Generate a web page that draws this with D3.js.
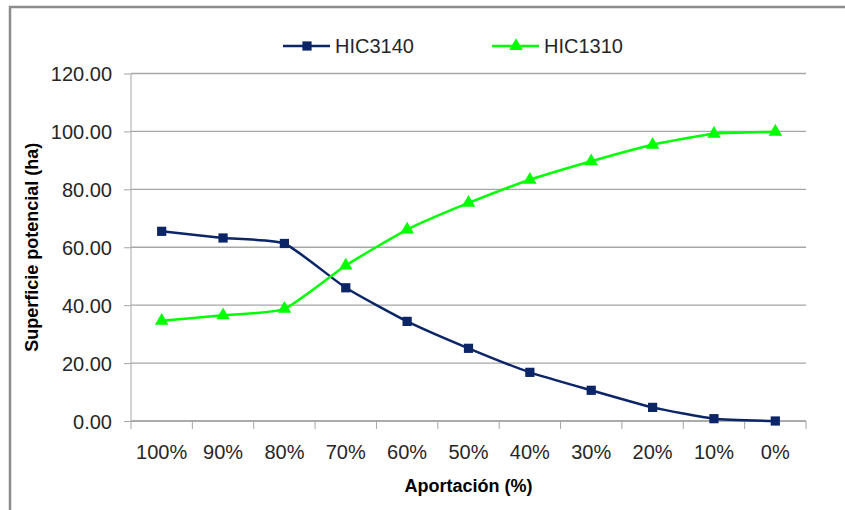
<!DOCTYPE html>
<html>
<head>
<meta charset="utf-8">
<script src="https://cdn.jsdelivr.net/npm/d3@7"></script>
<style>
	body { margin: 0; background: #fff; }
	svg { font-family: "Liberation Sans", Arial, sans-serif; }
	.grid line { stroke: #a6a6a6; stroke-width: 1.3; }
	.axis text { fill: #262626; font-size: 20px; }
	.axis path, .axis line { stroke: #a6a6a6; }
	.title { font-weight: bold; font-size: 18px; fill: #000; }
	.legend text { font-size: 20px; fill: #262626; }
</style>
</head>
<body>
<svg width="845" height="510"></svg>
<script>
	var categories = ["100%", "90%", "80%", "70%", "60%", "50%", "40%", "30%", "20%", "10%", "0%"];
	var hic3140 = [65.5, 63.2, 61.3, 46.0, 34.4, 25.1, 16.8, 10.6, 4.7, 0.8, 0.0];
	var hic1310 = [34.6, 36.5, 38.7, 53.7, 66.1, 75.3, 83.3, 89.7, 95.4, 99.2, 99.9];
	var yTicks = [0, 20, 40, 60, 80, 100, 120];

	var series = [
		{ name: "HIC3140", values: hic3140, color: "#0b2566", marker: "square" },
		{ name: "HIC1310", values: hic1310, color: "#00ff00", marker: "triangle" }
	];

	var svg = d3.select("svg");
	// plot area box (window.top is reserved, so use other names)
	var plotL = 131, plotR = 806, plotT = 73.5, plotB = 421;

	// chart border (left and top edge visible)
	svg.append("path")
		.attr("d", "M10,510 L10,7 L845,7")
		.attr("fill", "none")
		.attr("stroke", "#8c8c8c")
		.attr("stroke-width", 2.5);

	var x = d3.scaleBand().domain(categories).range([plotL, plotR]);
	var y = d3.scaleLinear().domain([0, 120]).range([plotB, plotT]);

	// gridlines
	svg.append("g").attr("class", "grid")
		.selectAll("line").data(yTicks).enter().append("line")
		.attr("x1", plotL).attr("x2", plotR)
		.attr("y1", d => y(d)).attr("y2", d => y(d));

	// y axis
	var yAxis = svg.append("g").attr("class", "axis")
		.attr("transform", "translate(" + plotL + ",0)")
		.call(d3.axisLeft(y).tickValues(yTicks).tickFormat(d3.format(".2f")).tickSize(7).tickPadding(12));
	yAxis.select(".domain").attr("d", "M0," + plotT + "V" + plotB);
	yAxis.selectAll("text").attr("dy", "0.36em");

	// x axis: ticks at band boundaries
	var xAxis = svg.append("g").attr("class", "axis")
		.attr("transform", "translate(0," + plotB + ")");
	xAxis.append("line").attr("x1", plotL).attr("x2", plotR).attr("stroke", "#a6a6a6").attr("stroke-width", 1.3);
	var bounds = categories.map(c => x(c)).concat([plotR]);
	xAxis.selectAll(".tk").data(bounds).enter().append("line")
		.attr("class", "tk")
		.attr("x1", d => d).attr("x2", d => d)
		.attr("y1", 0).attr("y2", 8);
	xAxis.selectAll("text").data(categories).enter().append("text")
		.attr("x", d => x(d) + x.bandwidth() / 2)
		.attr("y", 38)
		.attr("text-anchor", "middle")
		.text(d => d);

	// axis titles
	svg.append("text").attr("class", "title")
		.attr("x", (plotL + plotR) / 2).attr("y", 492)
		.attr("text-anchor", "middle")
		.text("Aportación (%)");
	svg.append("text").attr("class", "title")
		.attr("transform", "translate(38," + ((plotT + plotB) / 2) + ") rotate(-90)")
		.attr("text-anchor", "middle")
		.text("Superficie potencial (ha)");

	var line = d3.line()
		.x((d, i) => x(categories[i]) + x.bandwidth() / 2)
		.y(d => y(d))
		.curve(d3.curveCardinal.tension(0.5));

	var symSquare = d3.symbol().type(d3.symbolSquare).size(85);
	var symTri = d3.symbol().type(d3.symbolTriangle).size(80);

	series.forEach(function (s) {
		svg.append("path")
			.attr("d", line(s.values))
			.attr("fill", "none")
			.attr("stroke", s.color)
			.attr("stroke-width", 2.5);
		svg.append("g").selectAll("path").data(s.values).enter().append("path")
			.attr("transform", (d, i) => "translate(" + (x(categories[i]) + x.bandwidth() / 2) + "," + y(d) + ")")
			.attr("d", s.marker == "square" ? symSquare : symTri)
			.attr("fill", s.color);
	});

	// legend
	var legendPos = [283, 492];
	var legend = svg.append("g").attr("class", "legend");
	series.forEach(function (s, i) {
		var lx = legendPos[i];
		var g = legend.append("g").attr("transform", "translate(" + lx + ",46)");
		g.append("line").attr("x1", 0).attr("x2", 47)
			.attr("stroke", s.color).attr("stroke-width", 2.5);
		g.append("path").attr("transform", "translate(24,0)")
			.attr("d", s.marker == "square" ? symSquare : symTri)
			.attr("fill", s.color);
		g.append("text").attr("x", 52).attr("y", 0).attr("dy", "0.36em").text(s.name);
	});
</script>
</body>
</html>
